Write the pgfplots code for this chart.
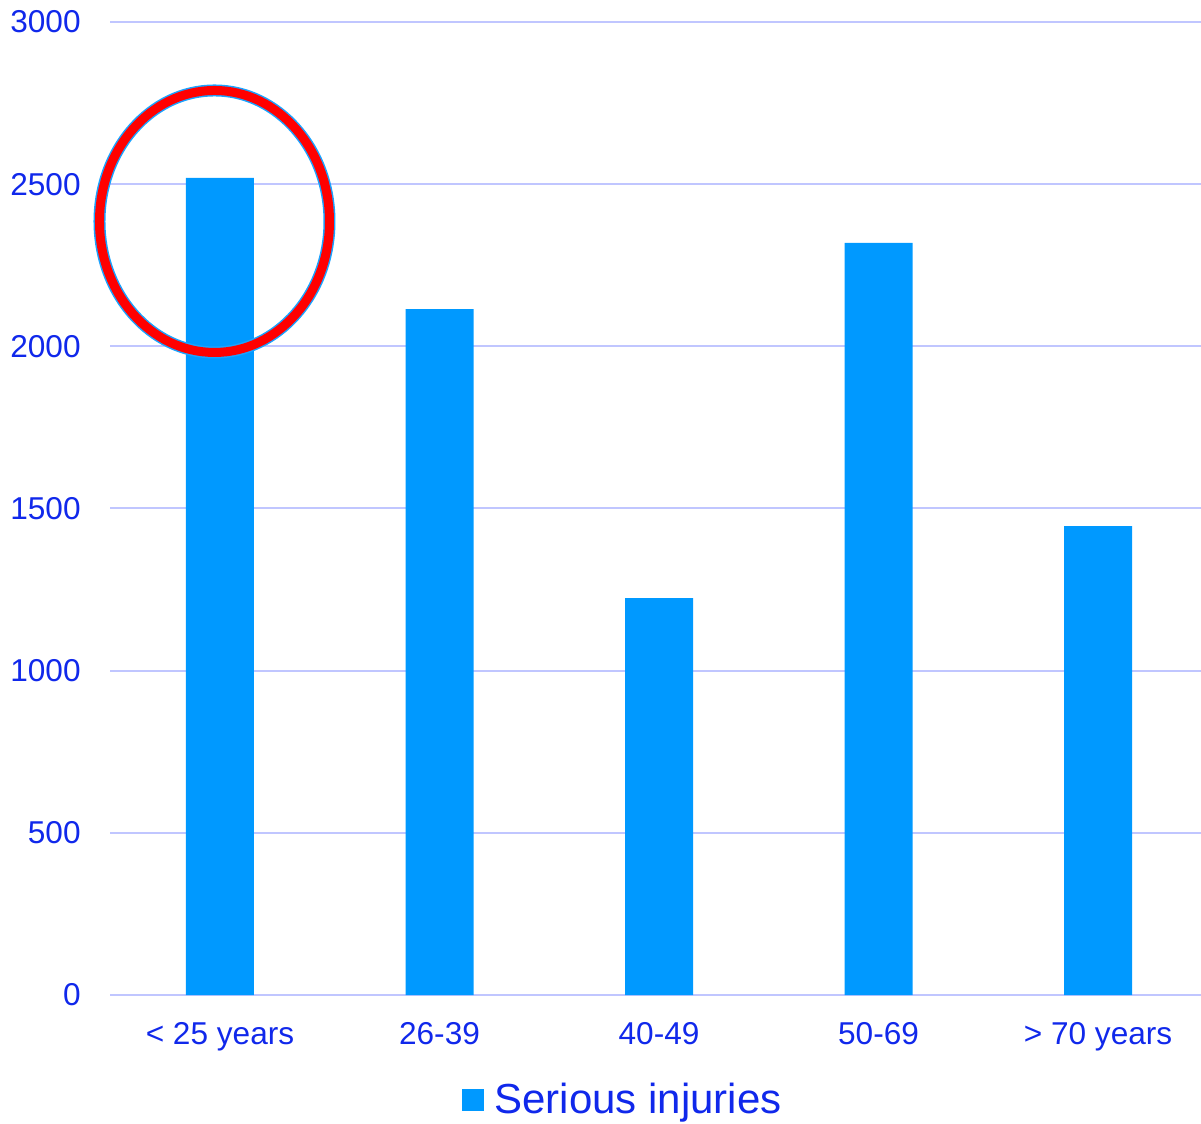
\documentclass[border=0pt]{standalone}
\usepackage{pgfplots}
\pgfplotsset{compat=1.18}
\usepackage{fontspec}
\setmainfont{Liberation Sans}
\definecolor{barblue}{HTML}{0099FF}
\definecolor{txtblue}{RGB}{16,40,235}
\definecolor{gridc}{RGB}{192,198,255}
\definecolor{ringblue}{HTML}{1AA3FF}
\begin{document}
\begin{tikzpicture}
\begin{axis}[
  name=ax,
  scale only axis,
  clip=false,
  width=545.5pt, height=486.5pt,
  xmin=-0.501, xmax=4.469, ymin=0, ymax=3000,
  ytick={0,500,1000,1500,2000,2500,3000},
  xtick=data,
  xticklabels={{< 25 years},{26-39},{40-49},{50-69},{> 70 years}},
  major tick length=0pt,
  axis line style={draw=none},
  ymajorgrids, grid style={gridc, line width=1pt},
  /pgf/number format/assume math mode=true,
  /pgf/number format/1000 sep={},
  tick label style={font=\fontsize{15.8}{18}\selectfont, text=txtblue, inner sep=0pt},
  yticklabel shift=14.5pt,
  xticklabel shift=13.5pt,
  xticklabel style={anchor=north},
  ybar, bar width=34pt,
  legend style={draw=none, fill=none, at={(0.469,-0.108)}, anchor=center,
    font=\fontsize{21}{25}\selectfont, text=txtblue, inner sep=0pt,
    nodes={inner sep=0pt}},
  legend image code/.code={\fill[barblue] (0pt,-5.5pt) rectangle (11pt,5.5pt);},
  legend cell align=left,
]
\addplot[fill=barblue, draw=none] coordinates {(0,2519) (1,2115) (2,1224) (3,2319) (4,1446)};
\addlegendentry{\hspace{5.5pt}Serious injuries}
\draw[ringblue, line width=6pt] (axis cs:-0.025,2385) ellipse [x radius=57.5pt, y radius=65.5pt];
\draw[red, line width=4.5pt] (axis cs:-0.025,2385) ellipse [x radius=57.5pt, y radius=65.5pt];
\end{axis}
\pgfresetboundingbox
\path ([shift={(-55pt,-64pt)}]ax.south west) rectangle ([shift={(0pt,11pt)}]ax.north east);
\end{tikzpicture}
\end{document}
